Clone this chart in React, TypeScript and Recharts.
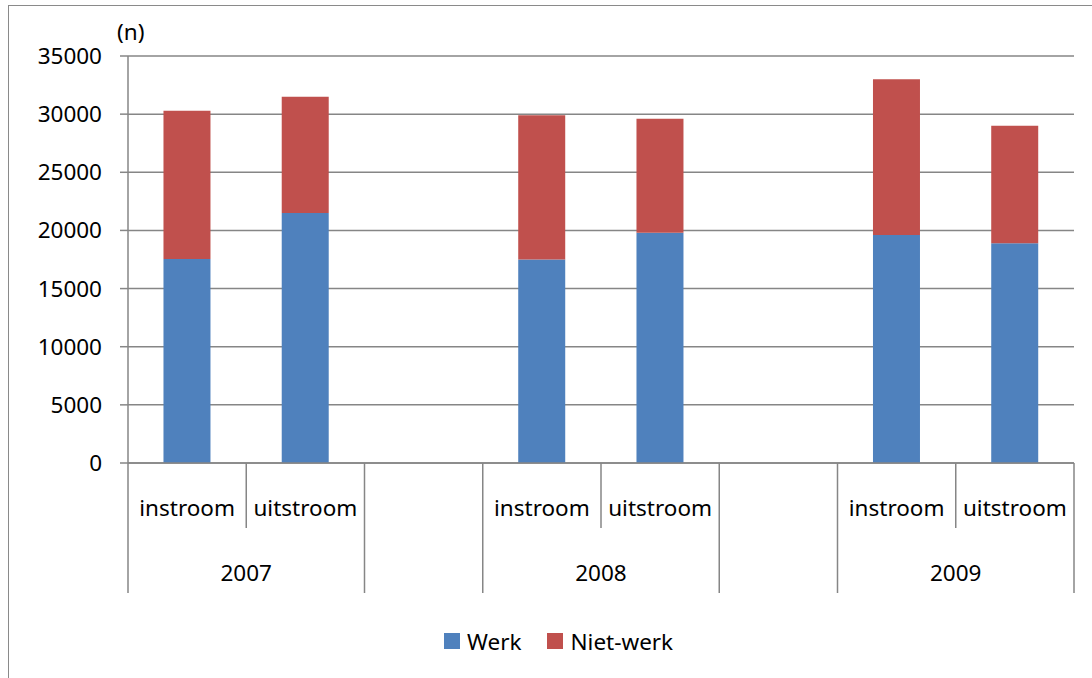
import { BarChart, Bar, XAxis, YAxis, CartesianGrid, Legend } from 'recharts';

const keys = ['2007-in', '2007-uit', 'gap1', '2008-in', '2008-uit', 'gap2', '2009-in', '2009-uit'];
const subLabels = ['instroom', 'uitstroom', '', 'instroom', 'uitstroom', '', 'instroom', 'uitstroom'];
const years = ['2007', '2007', '', '2008', '2008', '', '2009', '2009'];
const werk = [17550, 21500, null, 17500, 19800, null, 19600, 18900];
const nietWerk = [12750, 10000, null, 12400, 9800, null, 13400, 10100];
const yTicks = [0, 5000, 10000, 15000, 20000, 25000, 30000, 35000];
const seriesNames = ['Werk', 'Niet-werk'];

const data = keys.map((key, i) => ({ key, werk: werk[i], nietWerk: nietWerk[i] }));

const W = 1075;
const H = 664;
const margin = { top: 50, right: 10, left: 0, bottom: 14 };
const yAxisWidth = 119;
const band = (W - margin.left - margin.right - yAxisWidth) / keys.length;
const axisColor = '#868686';
const font = '"Noto Sans", sans-serif';
const fs = 22.5;

const CategoryTick = (props: any) => {
  const { x, y, payload } = props;
  const i = payload.index;
  const left = x - band / 2;
  const full = i === 0 || years[i] !== years[i - 1];
  let groupSize = 1;
  while (i + groupSize < years.length && years[i + groupSize] === years[i]) groupSize++;
  return (
    <g>
      <line x1={left} x2={left} y1={y} y2={y + (full ? 130 : 65)} stroke={axisColor} strokeWidth={1.5} />
      {i === keys.length - 1 && (
        <line x1={left + band} x2={left + band} y1={y} y2={y + 130} stroke={axisColor} strokeWidth={1.5} />
      )}
      <text x={x} y={y + 44} textAnchor="middle" dominantBaseline="central" fontSize={fs} fill="#000">
        {subLabels[i]}
      </text>
      {full && years[i] && (
        <text x={left + (band * groupSize) / 2} y={y + 109} textAnchor="middle" dominantBaseline="central" fontSize={fs} fill="#000">
          {years[i]}
        </text>
      )}
    </g>
  );
};

const LegendContent = (props: any) => {
  const items = [...(props.payload || [])].sort(
    (a: any, b: any) => seriesNames.indexOf(a.value) - seriesNames.indexOf(b.value)
  );
  return (
    <div style={{ height: 30, display: 'flex', alignItems: 'center', paddingLeft: 435, fontSize: fs, fontFamily: font, color: '#000' }}>
      {items.map((p: any) => (
        <div key={p.value} style={{ display: 'flex', alignItems: 'center', marginRight: 26 }}>
          <span style={{ width: 16, height: 16, background: p.color, display: 'inline-block', marginRight: 7 }} />
          <span>{p.value}</span>
        </div>
      ))}
    </div>
  );
};

export default function App() {
  return (
    <div
      style={{
        position: 'fixed',
        left: 8,
        top: 5,
        width: 1100,
        height: 700,
        borderLeft: '1px solid #8a8a8a',
        borderTop: '1px solid #8a8a8a',
        fontFamily: font,
        background: '#fff',
      }}
    >
      <BarChart width={W} height={H} data={data} margin={margin} barCategoryGap="30%">
        <CartesianGrid vertical={false} stroke={axisColor} strokeWidth={1.5} />
        <XAxis
          dataKey="key"
          interval={0}
          height={163}
          tickSize={0}
          tickMargin={0}
          tickLine={false}
          axisLine={{ stroke: axisColor, strokeWidth: 1.5 }}
          tick={<CategoryTick />}
        />
        <YAxis
          width={yAxisWidth}
          domain={[0, 35000]}
          ticks={yTicks}
          interval={0}
          tickSize={8}
          tickMargin={18}
          axisLine={{ stroke: axisColor, strokeWidth: 1.5 }}
          tickLine={{ stroke: axisColor, strokeWidth: 1.5 }}
          tick={{ fontSize: fs, fill: '#000', fontFamily: font }}
          label={{
            content: (p: any) => (
              <text x={p.viewBox.x + p.viewBox.width - 11} y={p.viewBox.y - 25} fontSize={fs} fill="#000" fontFamily={font} dominantBaseline="central">
                (n)
              </text>
            ),
          }}
        />
        <Legend verticalAlign="bottom" content={<LegendContent />} />
        <Bar dataKey="werk" name="Werk" stackId="a" fill="#4F81BD" isAnimationActive={false} />
        <Bar dataKey="nietWerk" name="Niet-werk" stackId="a" fill="#C0504D" isAnimationActive={false} />
      </BarChart>
    </div>
  );
}
